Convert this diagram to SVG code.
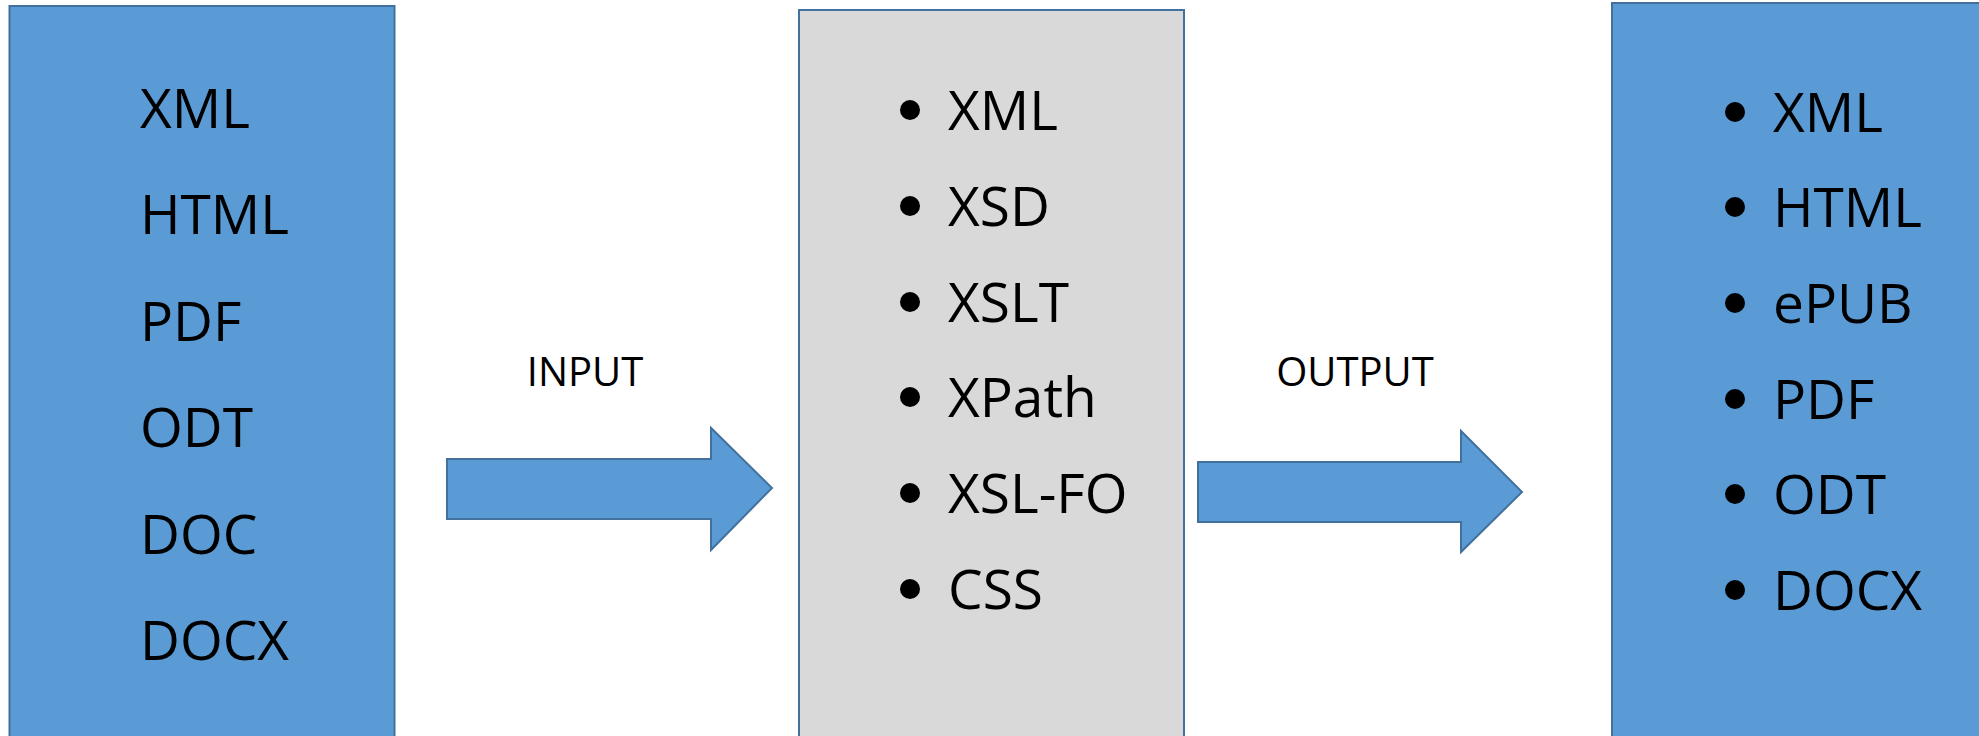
<svg xmlns="http://www.w3.org/2000/svg" width="1979" height="736" viewBox="0 0 1979 736">
  <style>
    .blue { fill: #5B9BD5; stroke: #41719C; stroke-width: 2; }
    .gray { fill: #D9D9D9; stroke: #41719C; stroke-width: 2; }
    .item { font-family: "Open Sans", "Liberation Sans", sans-serif; font-size: 55px; fill: #000; }
    .label { font-family: "Open Sans", "Liberation Sans", sans-serif; font-size: 40px; fill: #000; text-anchor: middle; }
    .dot { fill: #000; }
  </style>

  <rect width="1979" height="736" fill="#FFFFFF"/>

  <!-- Source formats -->
  <g id="source">
    <rect class="blue" x="9.5" y="6" width="385" height="740"/>
    <text class="item" x="140" y="128">XML</text>
    <text class="item" x="140" y="234">HTML</text>
    <text class="item" x="140" y="341">PDF</text>
    <text class="item" x="140" y="447">ODT</text>
    <text class="item" x="140" y="554">DOC</text>
    <text class="item" x="140" y="660">DOCX</text>
  </g>

  <!-- Processing technologies -->
  <g id="processing">
    <rect class="gray" x="799" y="10" width="385" height="740"/>
    <g class="dot">
      <circle cx="910" cy="110" r="10"/>
      <circle cx="910" cy="206" r="10"/>
      <circle cx="910" cy="302" r="10"/>
      <circle cx="910" cy="397" r="10"/>
      <circle cx="910" cy="493" r="10"/>
      <circle cx="910" cy="589" r="10"/>
    </g>
    <text class="item" x="948" y="130">XML</text>
    <text class="item" x="948" y="226">XSD</text>
    <text class="item" x="948" y="322">XSLT</text>
    <text class="item" x="948" y="417">XPath</text>
    <text class="item" x="948" y="513">XSL-FO</text>
    <text class="item" x="948" y="609">CSS</text>
  </g>

  <!-- Target formats -->
  <g id="target">
    <rect class="blue" x="1612" y="3" width="380" height="745"/>
    <g class="dot">
      <circle cx="1735" cy="112" r="10"/>
      <circle cx="1735" cy="207" r="10"/>
      <circle cx="1735" cy="303" r="10"/>
      <circle cx="1735" cy="399" r="10"/>
      <circle cx="1735" cy="494" r="10"/>
      <circle cx="1735" cy="590" r="10"/>
    </g>
    <text class="item" x="1773" y="132">XML</text>
    <text class="item" x="1773" y="227">HTML</text>
    <text class="item" x="1773" y="323">ePUB</text>
    <text class="item" x="1773" y="419">PDF</text>
    <text class="item" x="1773" y="514">ODT</text>
    <text class="item" x="1773" y="610">DOCX</text>
  </g>

  <!-- Block arrows between stages -->
  <g id="connectors">
    <g id="input-arrow">
      <polygon class="blue" points="447,459 711,459 711,428 772,488 711,550 711,519 447,519"/>
      <text class="label" x="585" y="386">INPUT</text>
    </g>
    <g id="output-arrow">
      <polygon class="blue" points="1198,462 1461,462 1461,431 1522,492 1461,552 1461,522 1198,522"/>
      <text class="label" x="1355" y="386">OUTPUT</text>
    </g>
  </g>
</svg>
